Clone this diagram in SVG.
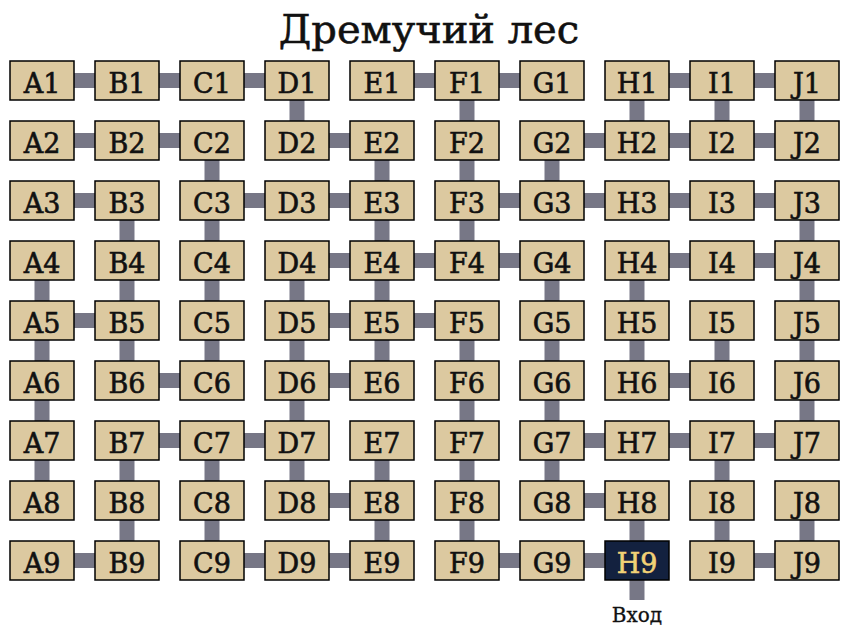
<svg xmlns="http://www.w3.org/2000/svg" width="850" height="637" viewBox="0 0 850 637">
<style>
.bg{fill:#ffffff}
.title{font-family:"DejaVu Serif","Liberation Serif",serif;font-size:40px;fill:#111111;stroke:#111111;stroke-width:0.6;text-anchor:middle}
.n rect{fill:#dcc9a0;stroke:#000000;stroke-width:1.5}
.n text{font-family:"DejaVu Serif","Liberation Serif",serif;font-size:27px;fill:#111111;stroke:#111111;stroke-width:0.6;text-anchor:middle}
.n.start rect{fill:#13213f}
.n.start text{fill:#f2d276;stroke:#f2d276}
.c line{stroke:#777786;stroke-width:15}
.lbl{font-family:"DejaVu Serif","Liberation Serif",serif;font-size:20px;fill:#111111;stroke:#111111;stroke-width:0.3;text-anchor:middle}
</style>
<rect class="bg" x="0" y="0" width="850" height="637"/>
<text class="title" x="429" y="43">Дремучий лес</text>
<g id="connectors" class="c">
<line x1="42" y1="80.5" x2="127" y2="80.5"/>
<line x1="127" y1="80.5" x2="212" y2="80.5"/>
<line x1="212" y1="80.5" x2="297" y2="80.5"/>
<line x1="382" y1="80.5" x2="467" y2="80.5"/>
<line x1="467" y1="80.5" x2="552" y2="80.5"/>
<line x1="637" y1="80.5" x2="722" y2="80.5"/>
<line x1="722" y1="80.5" x2="807" y2="80.5"/>
<line x1="297" y1="80.5" x2="297" y2="140.5"/>
<line x1="467" y1="80.5" x2="467" y2="140.5"/>
<line x1="637" y1="80.5" x2="637" y2="140.5"/>
<line x1="722" y1="80.5" x2="722" y2="140.5"/>
<line x1="807" y1="80.5" x2="807" y2="140.5"/>
<line x1="42" y1="140.5" x2="127" y2="140.5"/>
<line x1="127" y1="140.5" x2="212" y2="140.5"/>
<line x1="297" y1="140.5" x2="382" y2="140.5"/>
<line x1="552" y1="140.5" x2="637" y2="140.5"/>
<line x1="637" y1="140.5" x2="722" y2="140.5"/>
<line x1="722" y1="140.5" x2="807" y2="140.5"/>
<line x1="212" y1="140.5" x2="212" y2="200.5"/>
<line x1="382" y1="140.5" x2="382" y2="200.5"/>
<line x1="467" y1="140.5" x2="467" y2="200.5"/>
<line x1="552" y1="140.5" x2="552" y2="200.5"/>
<line x1="42" y1="200.5" x2="127" y2="200.5"/>
<line x1="212" y1="200.5" x2="297" y2="200.5"/>
<line x1="297" y1="200.5" x2="382" y2="200.5"/>
<line x1="467" y1="200.5" x2="552" y2="200.5"/>
<line x1="552" y1="200.5" x2="637" y2="200.5"/>
<line x1="637" y1="200.5" x2="722" y2="200.5"/>
<line x1="722" y1="200.5" x2="807" y2="200.5"/>
<line x1="127" y1="200.5" x2="127" y2="260.5"/>
<line x1="212" y1="200.5" x2="212" y2="260.5"/>
<line x1="382" y1="200.5" x2="382" y2="260.5"/>
<line x1="467" y1="200.5" x2="467" y2="260.5"/>
<line x1="807" y1="200.5" x2="807" y2="260.5"/>
<line x1="297" y1="260.5" x2="382" y2="260.5"/>
<line x1="382" y1="260.5" x2="467" y2="260.5"/>
<line x1="467" y1="260.5" x2="552" y2="260.5"/>
<line x1="637" y1="260.5" x2="722" y2="260.5"/>
<line x1="722" y1="260.5" x2="807" y2="260.5"/>
<line x1="42" y1="260.5" x2="42" y2="320.5"/>
<line x1="127" y1="260.5" x2="127" y2="320.5"/>
<line x1="212" y1="260.5" x2="212" y2="320.5"/>
<line x1="297" y1="260.5" x2="297" y2="320.5"/>
<line x1="382" y1="260.5" x2="382" y2="320.5"/>
<line x1="552" y1="260.5" x2="552" y2="320.5"/>
<line x1="637" y1="260.5" x2="637" y2="320.5"/>
<line x1="807" y1="260.5" x2="807" y2="320.5"/>
<line x1="42" y1="320.5" x2="127" y2="320.5"/>
<line x1="297" y1="320.5" x2="382" y2="320.5"/>
<line x1="382" y1="320.5" x2="467" y2="320.5"/>
<line x1="42" y1="320.5" x2="42" y2="380.5"/>
<line x1="127" y1="320.5" x2="127" y2="380.5"/>
<line x1="212" y1="320.5" x2="212" y2="380.5"/>
<line x1="297" y1="320.5" x2="297" y2="380.5"/>
<line x1="382" y1="320.5" x2="382" y2="380.5"/>
<line x1="467" y1="320.5" x2="467" y2="380.5"/>
<line x1="552" y1="320.5" x2="552" y2="380.5"/>
<line x1="637" y1="320.5" x2="637" y2="380.5"/>
<line x1="722" y1="320.5" x2="722" y2="380.5"/>
<line x1="807" y1="320.5" x2="807" y2="380.5"/>
<line x1="127" y1="380.5" x2="212" y2="380.5"/>
<line x1="297" y1="380.5" x2="382" y2="380.5"/>
<line x1="637" y1="380.5" x2="722" y2="380.5"/>
<line x1="42" y1="380.5" x2="42" y2="440.5"/>
<line x1="297" y1="380.5" x2="297" y2="440.5"/>
<line x1="467" y1="380.5" x2="467" y2="440.5"/>
<line x1="552" y1="380.5" x2="552" y2="440.5"/>
<line x1="807" y1="380.5" x2="807" y2="440.5"/>
<line x1="127" y1="440.5" x2="212" y2="440.5"/>
<line x1="212" y1="440.5" x2="297" y2="440.5"/>
<line x1="552" y1="440.5" x2="637" y2="440.5"/>
<line x1="637" y1="440.5" x2="722" y2="440.5"/>
<line x1="722" y1="440.5" x2="807" y2="440.5"/>
<line x1="42" y1="440.5" x2="42" y2="500.5"/>
<line x1="127" y1="440.5" x2="127" y2="500.5"/>
<line x1="212" y1="440.5" x2="212" y2="500.5"/>
<line x1="297" y1="440.5" x2="297" y2="500.5"/>
<line x1="382" y1="440.5" x2="382" y2="500.5"/>
<line x1="467" y1="440.5" x2="467" y2="500.5"/>
<line x1="552" y1="440.5" x2="552" y2="500.5"/>
<line x1="722" y1="440.5" x2="722" y2="500.5"/>
<line x1="297" y1="500.5" x2="382" y2="500.5"/>
<line x1="552" y1="500.5" x2="637" y2="500.5"/>
<line x1="127" y1="500.5" x2="127" y2="560.5"/>
<line x1="212" y1="500.5" x2="212" y2="560.5"/>
<line x1="382" y1="500.5" x2="382" y2="560.5"/>
<line x1="467" y1="500.5" x2="467" y2="560.5"/>
<line x1="637" y1="500.5" x2="637" y2="560.5"/>
<line x1="722" y1="500.5" x2="722" y2="560.5"/>
<line x1="807" y1="500.5" x2="807" y2="560.5"/>
<line x1="42" y1="560.5" x2="127" y2="560.5"/>
<line x1="212" y1="560.5" x2="297" y2="560.5"/>
<line x1="297" y1="560.5" x2="382" y2="560.5"/>
<line x1="467" y1="560.5" x2="552" y2="560.5"/>
<line x1="552" y1="560.5" x2="637" y2="560.5"/>
<line x1="722" y1="560.5" x2="807" y2="560.5"/>
<line x1="637" y1="560.5" x2="637" y2="600"/>
</g>
<g id="A1" class="n"><rect x="10" y="61" width="64" height="39"/><text x="42" y="93">A1</text></g>
<g id="B1" class="n"><rect x="95" y="61" width="64" height="39"/><text x="127" y="93">B1</text></g>
<g id="C1" class="n"><rect x="180" y="61" width="64" height="39"/><text x="212" y="93">C1</text></g>
<g id="D1" class="n"><rect x="265" y="61" width="64" height="39"/><text x="297" y="93">D1</text></g>
<g id="E1" class="n"><rect x="350" y="61" width="64" height="39"/><text x="382" y="93">E1</text></g>
<g id="F1" class="n"><rect x="435" y="61" width="64" height="39"/><text x="467" y="93">F1</text></g>
<g id="G1" class="n"><rect x="520" y="61" width="64" height="39"/><text x="552" y="93">G1</text></g>
<g id="H1" class="n"><rect x="605" y="61" width="64" height="39"/><text x="637" y="93">H1</text></g>
<g id="I1" class="n"><rect x="690" y="61" width="64" height="39"/><text x="722" y="93">I1</text></g>
<g id="J1" class="n"><rect x="775" y="61" width="64" height="39"/><text x="807" y="93">J1</text></g>
<g id="A2" class="n"><rect x="10" y="121" width="64" height="39"/><text x="42" y="153">A2</text></g>
<g id="B2" class="n"><rect x="95" y="121" width="64" height="39"/><text x="127" y="153">B2</text></g>
<g id="C2" class="n"><rect x="180" y="121" width="64" height="39"/><text x="212" y="153">C2</text></g>
<g id="D2" class="n"><rect x="265" y="121" width="64" height="39"/><text x="297" y="153">D2</text></g>
<g id="E2" class="n"><rect x="350" y="121" width="64" height="39"/><text x="382" y="153">E2</text></g>
<g id="F2" class="n"><rect x="435" y="121" width="64" height="39"/><text x="467" y="153">F2</text></g>
<g id="G2" class="n"><rect x="520" y="121" width="64" height="39"/><text x="552" y="153">G2</text></g>
<g id="H2" class="n"><rect x="605" y="121" width="64" height="39"/><text x="637" y="153">H2</text></g>
<g id="I2" class="n"><rect x="690" y="121" width="64" height="39"/><text x="722" y="153">I2</text></g>
<g id="J2" class="n"><rect x="775" y="121" width="64" height="39"/><text x="807" y="153">J2</text></g>
<g id="A3" class="n"><rect x="10" y="181" width="64" height="39"/><text x="42" y="213">A3</text></g>
<g id="B3" class="n"><rect x="95" y="181" width="64" height="39"/><text x="127" y="213">B3</text></g>
<g id="C3" class="n"><rect x="180" y="181" width="64" height="39"/><text x="212" y="213">C3</text></g>
<g id="D3" class="n"><rect x="265" y="181" width="64" height="39"/><text x="297" y="213">D3</text></g>
<g id="E3" class="n"><rect x="350" y="181" width="64" height="39"/><text x="382" y="213">E3</text></g>
<g id="F3" class="n"><rect x="435" y="181" width="64" height="39"/><text x="467" y="213">F3</text></g>
<g id="G3" class="n"><rect x="520" y="181" width="64" height="39"/><text x="552" y="213">G3</text></g>
<g id="H3" class="n"><rect x="605" y="181" width="64" height="39"/><text x="637" y="213">H3</text></g>
<g id="I3" class="n"><rect x="690" y="181" width="64" height="39"/><text x="722" y="213">I3</text></g>
<g id="J3" class="n"><rect x="775" y="181" width="64" height="39"/><text x="807" y="213">J3</text></g>
<g id="A4" class="n"><rect x="10" y="241" width="64" height="39"/><text x="42" y="273">A4</text></g>
<g id="B4" class="n"><rect x="95" y="241" width="64" height="39"/><text x="127" y="273">B4</text></g>
<g id="C4" class="n"><rect x="180" y="241" width="64" height="39"/><text x="212" y="273">C4</text></g>
<g id="D4" class="n"><rect x="265" y="241" width="64" height="39"/><text x="297" y="273">D4</text></g>
<g id="E4" class="n"><rect x="350" y="241" width="64" height="39"/><text x="382" y="273">E4</text></g>
<g id="F4" class="n"><rect x="435" y="241" width="64" height="39"/><text x="467" y="273">F4</text></g>
<g id="G4" class="n"><rect x="520" y="241" width="64" height="39"/><text x="552" y="273">G4</text></g>
<g id="H4" class="n"><rect x="605" y="241" width="64" height="39"/><text x="637" y="273">H4</text></g>
<g id="I4" class="n"><rect x="690" y="241" width="64" height="39"/><text x="722" y="273">I4</text></g>
<g id="J4" class="n"><rect x="775" y="241" width="64" height="39"/><text x="807" y="273">J4</text></g>
<g id="A5" class="n"><rect x="10" y="301" width="64" height="39"/><text x="42" y="333">A5</text></g>
<g id="B5" class="n"><rect x="95" y="301" width="64" height="39"/><text x="127" y="333">B5</text></g>
<g id="C5" class="n"><rect x="180" y="301" width="64" height="39"/><text x="212" y="333">C5</text></g>
<g id="D5" class="n"><rect x="265" y="301" width="64" height="39"/><text x="297" y="333">D5</text></g>
<g id="E5" class="n"><rect x="350" y="301" width="64" height="39"/><text x="382" y="333">E5</text></g>
<g id="F5" class="n"><rect x="435" y="301" width="64" height="39"/><text x="467" y="333">F5</text></g>
<g id="G5" class="n"><rect x="520" y="301" width="64" height="39"/><text x="552" y="333">G5</text></g>
<g id="H5" class="n"><rect x="605" y="301" width="64" height="39"/><text x="637" y="333">H5</text></g>
<g id="I5" class="n"><rect x="690" y="301" width="64" height="39"/><text x="722" y="333">I5</text></g>
<g id="J5" class="n"><rect x="775" y="301" width="64" height="39"/><text x="807" y="333">J5</text></g>
<g id="A6" class="n"><rect x="10" y="361" width="64" height="39"/><text x="42" y="393">A6</text></g>
<g id="B6" class="n"><rect x="95" y="361" width="64" height="39"/><text x="127" y="393">B6</text></g>
<g id="C6" class="n"><rect x="180" y="361" width="64" height="39"/><text x="212" y="393">C6</text></g>
<g id="D6" class="n"><rect x="265" y="361" width="64" height="39"/><text x="297" y="393">D6</text></g>
<g id="E6" class="n"><rect x="350" y="361" width="64" height="39"/><text x="382" y="393">E6</text></g>
<g id="F6" class="n"><rect x="435" y="361" width="64" height="39"/><text x="467" y="393">F6</text></g>
<g id="G6" class="n"><rect x="520" y="361" width="64" height="39"/><text x="552" y="393">G6</text></g>
<g id="H6" class="n"><rect x="605" y="361" width="64" height="39"/><text x="637" y="393">H6</text></g>
<g id="I6" class="n"><rect x="690" y="361" width="64" height="39"/><text x="722" y="393">I6</text></g>
<g id="J6" class="n"><rect x="775" y="361" width="64" height="39"/><text x="807" y="393">J6</text></g>
<g id="A7" class="n"><rect x="10" y="421" width="64" height="39"/><text x="42" y="453">A7</text></g>
<g id="B7" class="n"><rect x="95" y="421" width="64" height="39"/><text x="127" y="453">B7</text></g>
<g id="C7" class="n"><rect x="180" y="421" width="64" height="39"/><text x="212" y="453">C7</text></g>
<g id="D7" class="n"><rect x="265" y="421" width="64" height="39"/><text x="297" y="453">D7</text></g>
<g id="E7" class="n"><rect x="350" y="421" width="64" height="39"/><text x="382" y="453">E7</text></g>
<g id="F7" class="n"><rect x="435" y="421" width="64" height="39"/><text x="467" y="453">F7</text></g>
<g id="G7" class="n"><rect x="520" y="421" width="64" height="39"/><text x="552" y="453">G7</text></g>
<g id="H7" class="n"><rect x="605" y="421" width="64" height="39"/><text x="637" y="453">H7</text></g>
<g id="I7" class="n"><rect x="690" y="421" width="64" height="39"/><text x="722" y="453">I7</text></g>
<g id="J7" class="n"><rect x="775" y="421" width="64" height="39"/><text x="807" y="453">J7</text></g>
<g id="A8" class="n"><rect x="10" y="481" width="64" height="39"/><text x="42" y="513">A8</text></g>
<g id="B8" class="n"><rect x="95" y="481" width="64" height="39"/><text x="127" y="513">B8</text></g>
<g id="C8" class="n"><rect x="180" y="481" width="64" height="39"/><text x="212" y="513">C8</text></g>
<g id="D8" class="n"><rect x="265" y="481" width="64" height="39"/><text x="297" y="513">D8</text></g>
<g id="E8" class="n"><rect x="350" y="481" width="64" height="39"/><text x="382" y="513">E8</text></g>
<g id="F8" class="n"><rect x="435" y="481" width="64" height="39"/><text x="467" y="513">F8</text></g>
<g id="G8" class="n"><rect x="520" y="481" width="64" height="39"/><text x="552" y="513">G8</text></g>
<g id="H8" class="n"><rect x="605" y="481" width="64" height="39"/><text x="637" y="513">H8</text></g>
<g id="I8" class="n"><rect x="690" y="481" width="64" height="39"/><text x="722" y="513">I8</text></g>
<g id="J8" class="n"><rect x="775" y="481" width="64" height="39"/><text x="807" y="513">J8</text></g>
<g id="A9" class="n"><rect x="10" y="541" width="64" height="39"/><text x="42" y="573">A9</text></g>
<g id="B9" class="n"><rect x="95" y="541" width="64" height="39"/><text x="127" y="573">B9</text></g>
<g id="C9" class="n"><rect x="180" y="541" width="64" height="39"/><text x="212" y="573">C9</text></g>
<g id="D9" class="n"><rect x="265" y="541" width="64" height="39"/><text x="297" y="573">D9</text></g>
<g id="E9" class="n"><rect x="350" y="541" width="64" height="39"/><text x="382" y="573">E9</text></g>
<g id="F9" class="n"><rect x="435" y="541" width="64" height="39"/><text x="467" y="573">F9</text></g>
<g id="G9" class="n"><rect x="520" y="541" width="64" height="39"/><text x="552" y="573">G9</text></g>
<g id="H9" class="n start"><rect x="605" y="541" width="64" height="39"/><text x="637" y="573">H9</text></g>
<g id="I9" class="n"><rect x="690" y="541" width="64" height="39"/><text x="722" y="573">I9</text></g>
<g id="J9" class="n"><rect x="775" y="541" width="64" height="39"/><text x="807" y="573">J9</text></g>
<text class="lbl" x="637" y="622">Вход</text>
</svg>
